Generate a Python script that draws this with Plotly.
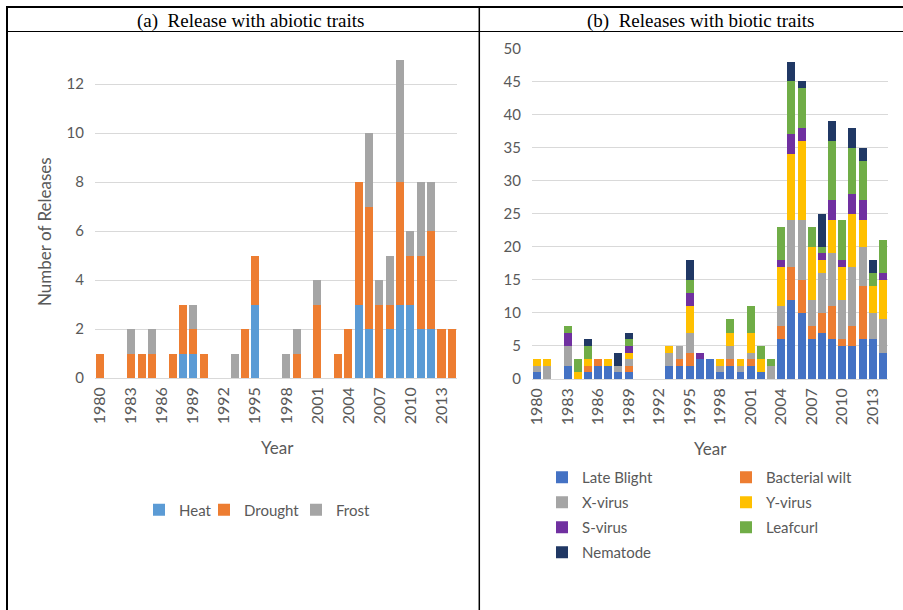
import plotly.graph_objects as go

W, H = 903, 610

years = [str(y) for y in range(1980, 2015)]
tick_years = [str(y) for y in range(1980, 2015, 3)]

# (a) abiotic traits, 1980..2014
heat = [0, 0, 0, 0, 0, 0, 0, 0, 1, 1, 0, 0, 0, 0, 0, 3, 0, 0, 0, 0, 0, 0, 0, 0, 0, 3, 2, 0, 2, 3, 3, 2, 2, 0, 0]
drought = [1, 0, 0, 1, 1, 1, 0, 1, 2, 1, 1, 0, 0, 0, 2, 2, 0, 0, 0, 1, 0, 3, 0, 1, 2, 5, 5, 3, 1, 5, 2, 3, 4, 2, 2]
frost = [0, 0, 0, 1, 0, 1, 0, 0, 0, 1, 0, 0, 0, 1, 0, 0, 0, 0, 1, 1, 0, 1, 0, 0, 0, 0, 3, 1, 2, 5, 1, 3, 2, 0, 0]

# (b) biotic traits, 1980..2014
late_blight = [1, 0, 0, 2, 0, 1, 2, 2, 1, 1, 0, 0, 0, 2, 2, 2, 3, 3, 1, 2, 1, 2, 1, 0, 6, 12, 10, 6, 7, 6, 5, 5, 6, 6, 4]
bacterial_wilt = [0, 0, 0, 0, 0, 1, 1, 0, 0, 1, 0, 0, 0, 0, 1, 2, 0, 0, 0, 1, 0, 1, 0, 0, 2, 5, 5, 2, 3, 5, 1, 3, 8, 0, 0]
x_virus = [1, 2, 0, 3, 0, 0, 0, 0, 1, 1, 0, 0, 0, 2, 2, 3, 0, 0, 1, 2, 1, 1, 0, 2, 3, 7, 9, 4, 6, 8, 6, 9, 6, 4, 5]
y_virus = [1, 1, 0, 0, 1, 1, 0, 1, 0, 1, 0, 0, 0, 1, 0, 4, 0, 0, 1, 2, 1, 3, 2, 0, 6, 10, 12, 8, 2, 5, 5, 8, 4, 4, 6]
s_virus = [0, 0, 0, 2, 0, 0, 0, 0, 0, 1, 0, 0, 0, 0, 0, 2, 1, 0, 0, 0, 0, 0, 0, 0, 1, 3, 2, 0, 1, 3, 1, 3, 3, 0, 1]
leafcurl = [0, 0, 0, 1, 2, 2, 0, 0, 0, 1, 0, 0, 0, 0, 0, 2, 0, 0, 0, 2, 0, 4, 2, 1, 5, 8, 6, 3, 1, 9, 6, 7, 6, 2, 5]
nematode = [0, 0, 0, 0, 0, 1, 0, 0, 2, 1, 0, 0, 0, 0, 0, 3, 0, 0, 0, 0, 0, 0, 0, 0, 0, 3, 1, 0, 5, 3, 0, 3, 2, 2, 0]

FONT = "Lato"
GREY = "#595959"
GRID = "#D9D9D9"

def px(x):
    return x / W

def py(y):
    return 1 - y / H

fig = go.Figure()

left_series = [("Heat", heat, "#5B9BD5", 20), ("Drought", drought, "#ED7D31", 47), ("Frost", frost, "#A5A5A5", None)]
for name, vals, col, lw in left_series:
    kw = dict(legendwidth=lw) if lw else {}
    fig.add_trace(go.Bar(x=years, y=vals, name=name, marker=dict(color=col, line=dict(width=0)),
                         xaxis="x", yaxis="y", legend="legend", **kw))

col1 = {"Late Blight", "X-virus", "S-virus", "Nematode"}
right_series = [("Late Blight", late_blight, "#4472C4"), ("Bacterial wilt", bacterial_wilt, "#ED7D31"),
                ("X-virus", x_virus, "#A5A5A5"), ("Y-virus", y_virus, "#FFC000"),
                ("S-virus", s_virus, "#7030A0"), ("Leafcurl", leafcurl, "#70AD47"),
                ("Nematode", nematode, "#203864")]
for name, vals, col in right_series:
    fig.add_trace(go.Bar(x=years, y=vals, name=name, legendgroup=name,
                         marker=dict(color=col, line=dict(width=0)),
                         xaxis="x2", yaxis="y2", legend="legend2" if name in col1 else "legend3"))

xcommon = dict(type="category", categoryorder="array", categoryarray=years, tickmode="array",
               tickvals=tick_years, ticktext=tick_years, tickangle=-90, showgrid=False,
               showline=False, ticks="", zeroline=False, automargin=False, ticklabelstandoff=5,
               tickfont=dict(family=FONT, size=16, color=GREY), fixedrange=True)
ycommon = dict(showgrid=True, gridcolor=GRID, gridwidth=1, zeroline=True, zerolinecolor=GRID,
               zerolinewidth=1, showline=False, ticks="", automargin=False, ticklabelstandoff=10,
               tickfont=dict(family=FONT, size=15, color=GREY), fixedrange=True)

fig.update_layout(
    width=W, height=H, autosize=False,
    margin=dict(l=0, r=0, t=0, b=0, pad=0, autoexpand=False),
    paper_bgcolor="white", plot_bgcolor="white",
    barmode="stack", bargap=0.22,
    showlegend=True,
    xaxis=dict(domain=[px(95), px(457)], anchor="y", **xcommon),
    yaxis=dict(domain=[py(378), py(59.5)], anchor="x", range=[0, 13], tickvals=list(range(0, 13, 2)), **ycommon),
    xaxis2=dict(domain=[px(532), px(888)], anchor="y2", **xcommon),
    yaxis2=dict(domain=[py(379), py(48.3)], anchor="x2", range=[0, 50], dtick=5, **ycommon),
    legend=dict(orientation="h", x=px(139), xanchor="left", y=py(510), yanchor="middle",
                font=dict(family=FONT, size=15, color=GREY), bgcolor="rgba(0,0,0,0)", traceorder="normal"),
    legend2=dict(orientation="v", x=px(542), xanchor="left", y=py(461), yanchor="top",
                 font=dict(family=FONT, size=15, color=GREY), bgcolor="rgba(0,0,0,0)",
                 traceorder="grouped", tracegroupgap=2.5),
    legend3=dict(orientation="v", x=px(726), xanchor="left", y=py(461), yanchor="top",
                 font=dict(family=FONT, size=15, color=GREY), bgcolor="rgba(0,0,0,0)",
                 traceorder="grouped", tracegroupgap=2.5),
)

annots = [
    dict(text="(a)\u00a0\u00a0Release with abiotic traits", x=px(135), y=py(21), xanchor="left", yanchor="middle",
         font=dict(family="Liberation Serif", size=19, color="black")),
    dict(text="(b)\u00a0\u00a0Releases with biotic traits", x=px(585), y=py(21), xanchor="left", yanchor="middle",
         font=dict(family="Liberation Serif", size=19, color="black")),
    dict(text="Number of Releases", x=px(45), y=py(232), textangle=-90, xanchor="center", yanchor="middle",
         font=dict(family=FONT, size=17, color=GREY)),
    dict(text="Year", x=px(277), y=py(447), xanchor="center", yanchor="middle",
         font=dict(family=FONT, size=17, color=GREY)),
    dict(text="Year", x=px(710), y=py(448), xanchor="center", yanchor="middle",
         font=dict(family=FONT, size=17, color=GREY)),
]
for a in annots:
    fig.add_annotation(xref="paper", yref="paper", showarrow=False, **a)

lines = [
    (px(6), py(7), px(903), py(7), 2),
    (px(7), py(6), px(7), py(610), 2),
    (px(7), py(31.5), px(903), py(31.5), 1),
    (px(479.3), py(7), px(479.3), py(610), 1.5),
]
for x0, y0, x1, y1, w in lines:
    fig.add_shape(type="line", xref="paper", yref="paper", x0=x0, y0=y0, x1=x1, y1=y1,
                  line=dict(color="black", width=w))

fig.write_html("out.html", config={"displayModeBar": False},
               post_script="document.body.style.margin='0';document.body.style.overflow='hidden';")
